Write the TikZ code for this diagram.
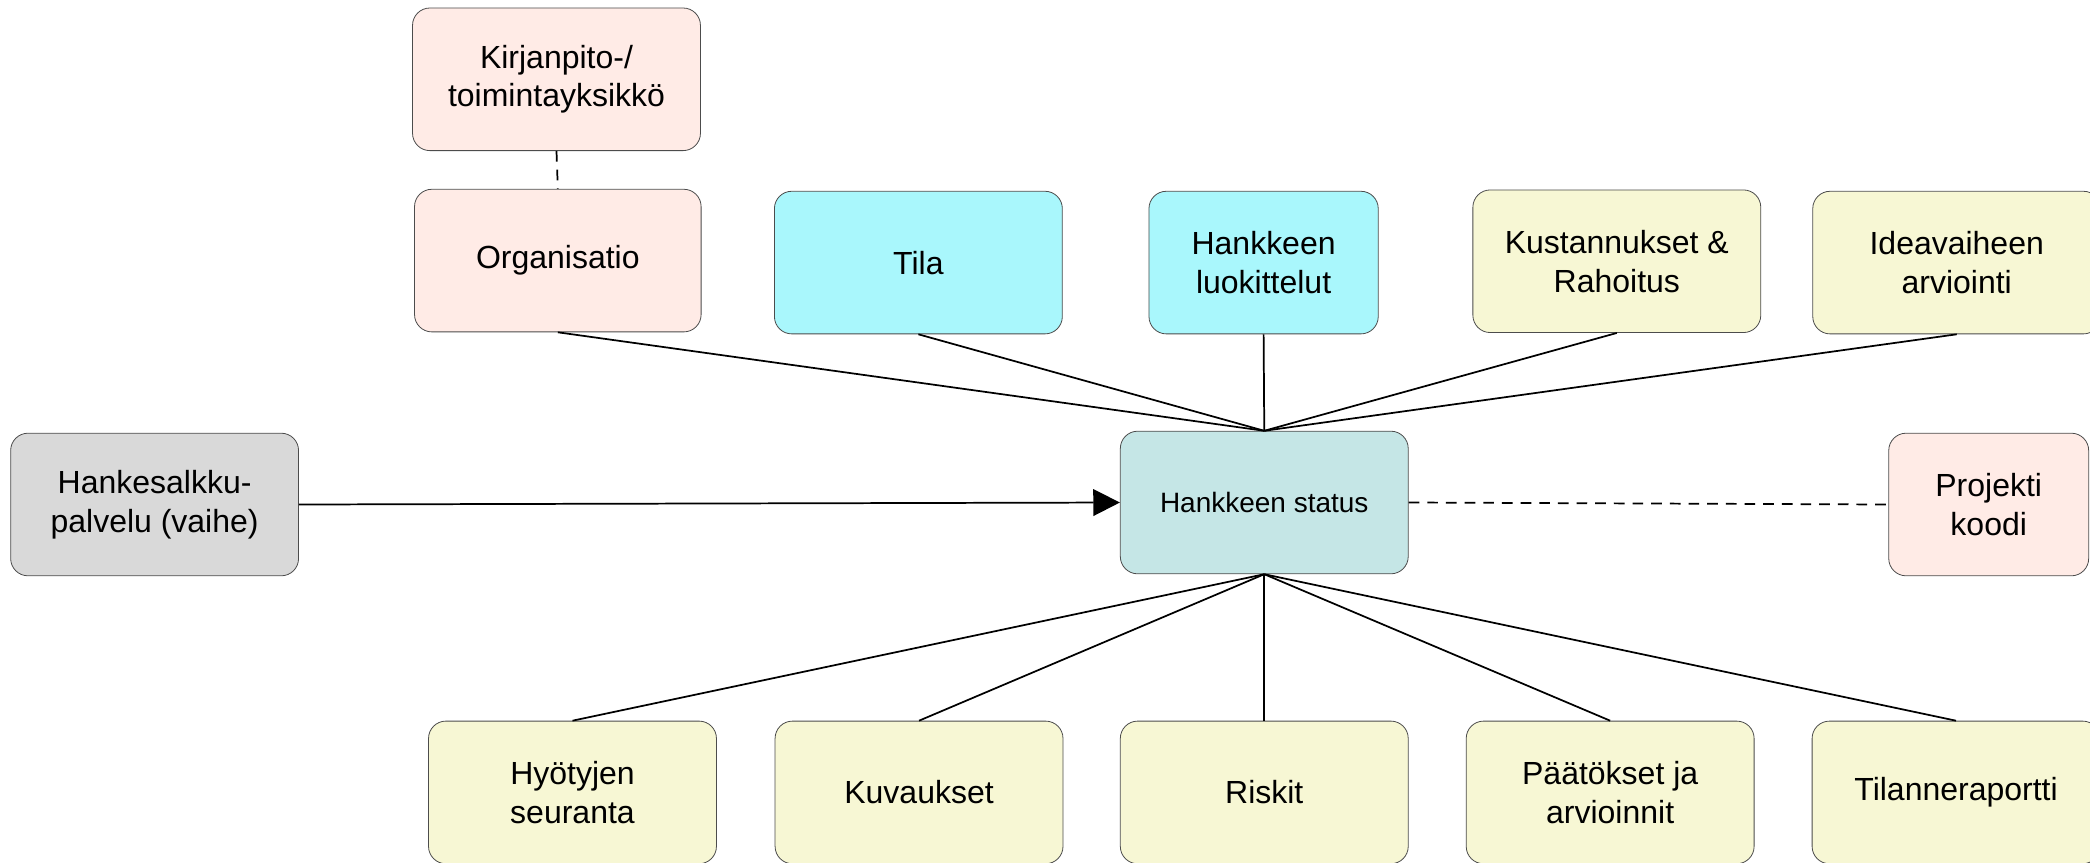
\documentclass[tikz,border=0pt]{standalone}
\usepackage{fontspec}
\setmainfont{Liberation Sans}
\usetikzlibrary{arrows.meta}
\definecolor{pinkbox}{HTML}{FFEBE6}
\definecolor{cyanbox}{HTML}{A9F7FC}
\definecolor{yellowbox}{HTML}{F7F7D4}
\definecolor{greybox}{HTML}{D9D9D9}
\definecolor{statusbox}{HTML}{C5E6E6}
\begin{document}
\begin{tikzpicture}[x=1pt,y=-1pt,
  box/.style={draw=black!70,line width=0.6pt,rounded corners=13pt,minimum width=216pt,minimum height=107pt,align=center,inner sep=0pt,font=\fontsize{24}{29}\selectfont},
  link/.style={line width=1.3pt},
  dashlink/.style={line width=1.3pt,dash pattern=on 8pt off 6pt}]
\clip (0,0) rectangle (1568,647);

% Centre
\node[box,fill=statusbox,font=\fontsize{21}{25}\selectfont] (status) at (948.5,377) {Hankkeen status};

% Top row
\node[box,fill=pinkbox] (kirjanpito) at (417.5,59.5) {Kirjanpito-/\\toimintayksikkö};
\node[box,fill=pinkbox,minimum width=215pt] (organisatio) at (418.5,195.5) {Organisatio};
\node[box,fill=cyanbox] (tila) at (689,197) {Tila};
\node[box,fill=cyanbox,minimum width=172pt] (luokittelut) at (948,197) {Hankkeen\\luokittelut};
\node[box,fill=yellowbox] (kustannukset) at (1213,196) {Kustannukset \&\\Rahoitus};
\node[box,fill=yellowbox] (ideavaihe) at (1468,197) {Ideavaiheen\\arviointi};

% Middle row
\node[box,fill=greybox] (hankesalkku) at (116,378.5) {Hankesalkku-\\palvelu (vaihe)};
\node[box,fill=pinkbox,minimum width=150pt] (projekti) at (1492,378.5) {Projekti\\koodi};

% Bottom row
\node[box,fill=yellowbox] (hyodyt) at (429.5,594.5) {Hyötyjen\\seuranta};
\node[box,fill=yellowbox] (kuvaukset) at (689.5,594.5) {Kuvaukset};
\node[box,fill=yellowbox] (riskit) at (948.5,594.5) {Riskit};
\node[box,fill=yellowbox] (paatokset) at (1208,594.5) {Päätökset ja\\arvioinnit};
\node[box,fill=yellowbox] (tilanneraportti) at (1467.5,594.5) {Tilanneraportti};

% Connectors
\draw[dashlink] (kirjanpito.south) -- (organisatio.north);
\foreach \n in {organisatio,tila,luokittelut,kustannukset,ideavaihe} {
  \draw[link] (\n.south) -- (status.north);
}
\foreach \n in {hyodyt,kuvaukset,riskit,paatokset,tilanneraportti} {
  \draw[link] (status.south) -- (\n.north);
}
\draw[link,-{Triangle[length=20pt,width=20pt]}] (hankesalkku.east) -- (status.west);
\draw[dashlink] (status.east) -- (projekti.west);
\end{tikzpicture}
\end{document}
